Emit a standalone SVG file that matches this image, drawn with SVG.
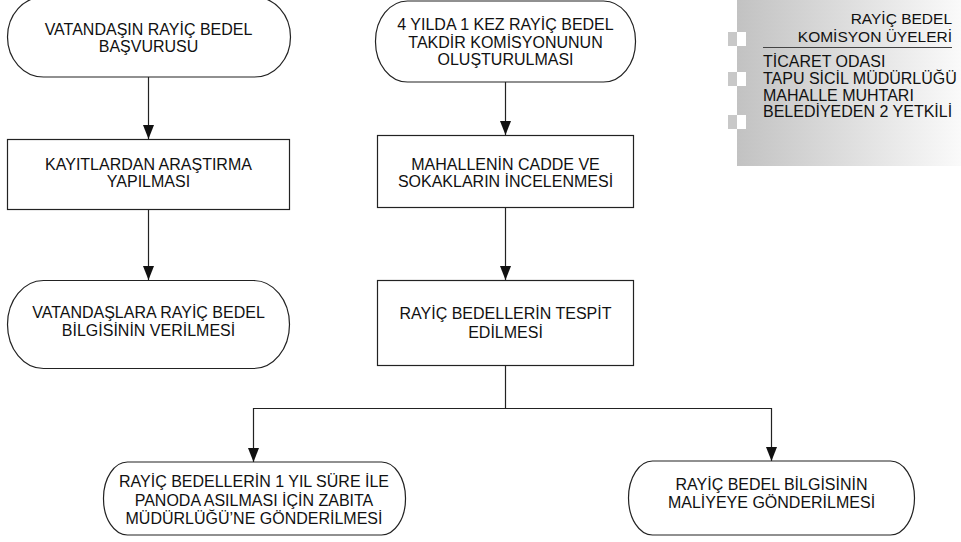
<svg xmlns="http://www.w3.org/2000/svg" width="961" height="542" viewBox="0 0 961 542">
<style>
.shape{fill:#fff;stroke:#222;stroke-width:1.2}
.t{font-family:"Liberation Sans",Arial,sans-serif;font-size:16px;fill:#111;text-anchor:middle}
.p{font-family:"Liberation Sans",Arial,sans-serif;font-size:16px;fill:#111}
.h{font-family:"Liberation Sans",Arial,sans-serif;font-size:15.5px;fill:#111;text-anchor:end}
.c{fill:none;stroke:#222;stroke-width:1.2}
</style>
<defs>
<linearGradient id="g" x1="0" y1="0" x2="1" y2="0">
<stop offset="0" stop-color="#c2c2c2"/>
<stop offset="1" stop-color="#fafafa"/>
</linearGradient>
<marker id="ah" markerUnits="userSpaceOnUse" markerWidth="15" markerHeight="12" refX="14" refY="6" orient="auto-start-reverse" viewBox="0 0 15 12">
<path d="M0,0.5 L14,6 L0,11.5 Z" fill="#111"/>
</marker>
</defs>
<rect width="961" height="542" fill="#fff"/>

<g id="panel">
<rect x="737" y="0" width="224" height="166" fill="url(#g)"/>
<rect x="728" y="32" width="9" height="14" fill="#c8c8c8"/>
<rect x="737" y="32" width="9" height="14" fill="#fff"/>
<rect x="728" y="72" width="9" height="14" fill="#c8c8c8"/>
<rect x="737" y="72" width="9" height="14" fill="#fff"/>
<rect x="728" y="115" width="9" height="14" fill="#c8c8c8"/>
<rect x="737" y="115" width="9" height="14" fill="#fff"/>
<text class="h" x="952" y="24">RAYİÇ BEDEL</text>
<text class="h" x="952" y="42">KOMİSYON ÜYELERİ</text>
<line x1="763" y1="47.5" x2="952" y2="47.5" stroke="#444" stroke-width="1"/>
<text class="p" x="763" y="67">TİCARET ODASI</text>
<text class="p" x="763" y="84">TAPU SİCİL MÜDÜRLÜĞÜ</text>
<text class="p" x="763" y="101">MAHALLE MUHTARI</text>
<text class="p" x="763" y="117">BELEDİYEDEN 2 YETKİLİ</text>
</g>

<g id="connectors">
<line class="c" x1="148.5" y1="77" x2="148.5" y2="139" marker-end="url(#ah)"/>
<line class="c" x1="148.5" y1="209" x2="148.5" y2="280" marker-end="url(#ah)"/>
<line class="c" x1="505.5" y1="82" x2="505.5" y2="135" marker-end="url(#ah)"/>
<line class="c" x1="505.5" y1="207" x2="505.5" y2="280" marker-end="url(#ah)"/>
<polyline class="c" points="505.5,365 505.5,408.5"/>
<polyline class="c" points="253.5,462 253.5,408.5 771.5,408.5 771.5,461" marker-start="url(#ah)" marker-end="url(#ah)"/>
</g>

<g id="n1">
<rect class="shape" x="7.5" y="-3" width="283" height="80" rx="36" ry="40"/>
<text class="t" x="148.5" y="35">VATANDAŞIN RAYİÇ BEDEL</text>
<text class="t" x="148.5" y="52">BAŞVURUSU</text>
</g>
<g id="n2">
<rect class="shape" x="7.5" y="139.5" width="282" height="70"/>
<text class="t" x="148.5" y="170">KAYITLARDAN ARAŞTIRMA</text>
<text class="t" x="148.5" y="187">YAPILMASI</text>
</g>
<g id="n3">
<rect class="shape" x="7.5" y="280.5" width="282" height="88" rx="36" ry="44"/>
<text class="t" x="148.5" y="318">VATANDAŞLARA RAYİÇ BEDEL</text>
<text class="t" x="148.5" y="336">BİLGİSİNİN VERİLMESİ</text>
</g>
<g id="n4">
<rect class="shape" x="375.5" y="1" width="260" height="81" rx="32" ry="40"/>
<text class="t" x="505.5" y="30">4 YILDA 1 KEZ RAYİÇ BEDEL</text>
<text class="t" x="505.5" y="47.5">TAKDİR KOMİSYONUNUN</text>
<text class="t" x="505.5" y="65">OLUŞTURULMASI</text>
</g>
<g id="n5">
<rect class="shape" x="377.5" y="135.5" width="256" height="72"/>
<text class="t" x="505.5" y="170">MAHALLENİN CADDE VE</text>
<text class="t" x="505.5" y="187">SOKAKLARIN İNCELENMESİ</text>
</g>
<g id="n6">
<rect class="shape" x="377.5" y="280.5" width="256" height="85"/>
<text class="t" x="505.5" y="319">RAYİÇ BEDELLERİN TESPİT</text>
<text class="t" x="505.5" y="338">EDİLMESİ</text>
</g>
<g id="n7">
<rect class="shape" x="103.5" y="462" width="302" height="73" rx="24" ry="36"/>
<text class="t" x="254" y="487">RAYİÇ BEDELLERİN 1 YIL SÜRE İLE</text>
<text class="t" x="254" y="505.5">PANODA ASILMASI İÇİN ZABITA</text>
<text class="t" x="254" y="524">MÜDÜRLÜĞÜ’NE GÖNDERİLMESİ</text>
</g>
<g id="n8">
<rect class="shape" x="628.5" y="461" width="286" height="74" rx="24" ry="37"/>
<text class="t" x="771.5" y="490">RAYİÇ BEDEL BİLGİSİNİN</text>
<text class="t" x="771.5" y="508">MALİYEYE GÖNDERİLMESİ</text>
</g>
</svg>
